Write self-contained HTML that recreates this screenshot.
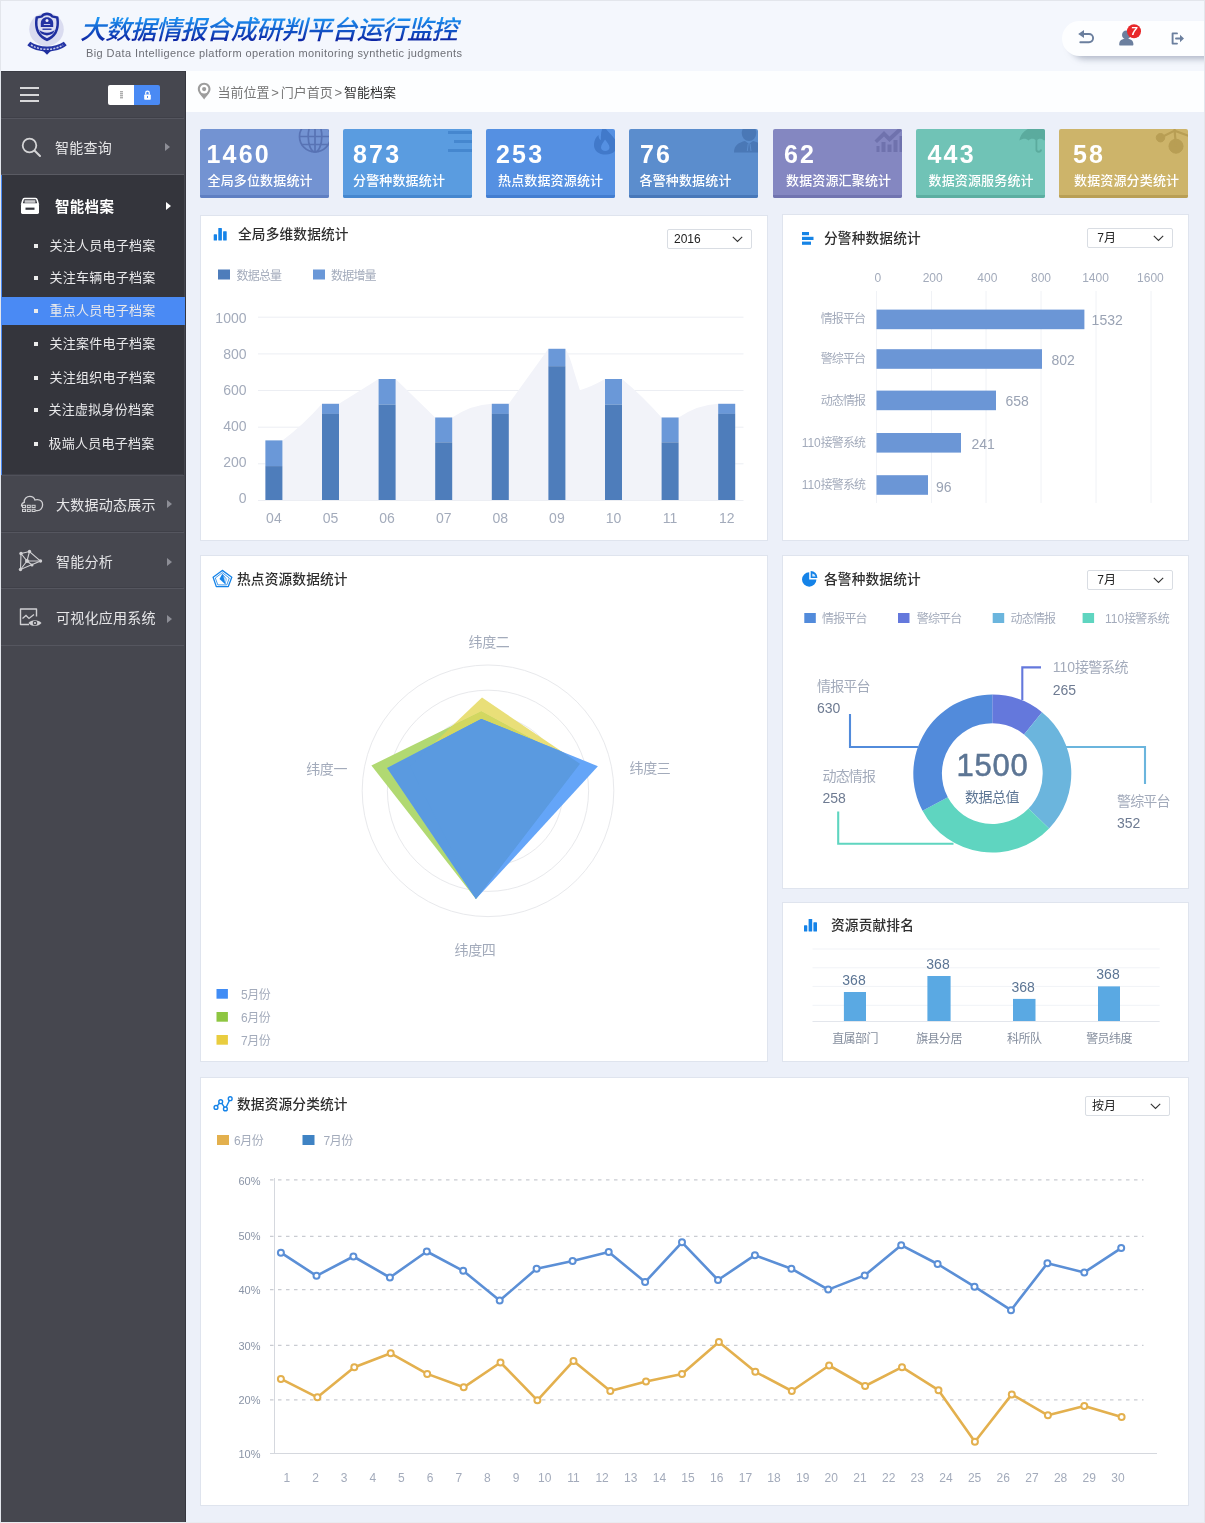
<!DOCTYPE html><html lang="zh-CN"><head><meta charset="utf-8"><title>大数据情报合成研判平台运行监控</title><style>
*{box-sizing:border-box;margin:0;padding:0}
html,body{width:1205px;height:1523px;overflow:hidden}
body{position:relative;background:#ecf0f9;font-family:"Liberation Sans","Noto Sans CJK SC",sans-serif;color:#333}
.abs{position:absolute}
#frame{position:absolute;left:0;top:0;width:1205px;height:1523px;border:1px solid #e3e6ec;border-bottom:1.500px solid #e9ebf0;pointer-events:none;z-index:50}
#hdr{position:absolute;left:0;top:0;width:1205px;height:71px;background:#f4f7fd}
#title{position:absolute;left:80px;top:12px;font-size:26px;line-height:36px;font-style:italic;font-weight:500;white-space:nowrap;letter-spacing:-.87px;background:linear-gradient(180deg,#1c92f2 18%,#0b1fa0 82%);-webkit-background-clip:text;background-clip:text;color:transparent;-webkit-text-fill-color:transparent;padding-right:6px}
#sub{position:absolute;left:86px;top:45.5px;font-size:11px;line-height:14px;color:#6d6f76;white-space:nowrap;letter-spacing:.41px}
#pill{position:absolute;left:1062px;top:21px;width:150px;height:35px;border-radius:17.5px 4px 4px 17.5px;background:#fdfeff;box-shadow:6px 5px 6px -2px rgba(120,132,155,.55)}
#side{position:absolute;left:1px;top:71px;width:184.500px;height:1452px;background:#46474f;border-right:1.400px solid #35363e}
#crumb{position:absolute;left:185px;top:71px;width:1020px;height:41px;background:#fdfeff}
#crumb .t{position:absolute;left:32.500px;top:12.500px;font-size:13px;line-height:18px;color:#777;white-space:nowrap}
#crumb .t b{font-weight:400;color:#333}
#crumb .t i{font-style:normal;padding:0 1.8px}
.row{position:absolute;left:0;width:183px;border-top:1px solid #55565f;box-shadow:0 -2px 0 -1px #3f4048}
.row .tx{position:absolute;left:55px;font-size:14px;line-height:20px;color:#e6e6e8;white-space:nowrap;letter-spacing:.25px}
.arr{position:absolute;width:0;height:0;border-left:5px solid #8d8e96;border-top:4px solid transparent;border-bottom:4px solid transparent}
.sub{position:absolute;left:0;width:184px;height:28px}
.sub i{position:absolute;left:33px;top:12px;width:4px;height:4px;background:#ececec}
.sub span{position:absolute;left:49px;top:4px;font-size:13px;line-height:20px;color:#e9e9eb;white-space:nowrap;letter-spacing:.25px}
.card{position:absolute;top:129px;width:129px;height:69px;border-radius:2px;overflow:hidden;color:#fff}
.card .n{position:absolute;left:7px;top:10px;font-size:25px;line-height:30px;font-weight:700;letter-spacing:2.2px}
.card .l{position:absolute;left:7px;top:43px;font-size:13px;line-height:18px;white-space:nowrap;letter-spacing:.15px;font-weight:500}
.card .b{position:absolute;left:0;bottom:0;width:100%;height:3px}
.panel{position:absolute;background:#fff;border:1px solid #dfe4ee}
.pt{position:absolute;font-size:13.7px;line-height:20px;color:#2f2f2f;white-space:nowrap;font-weight:500;letter-spacing:.15px}
.sel{position:absolute;height:20px;border:1px solid #d9dde3;border-radius:2px;background:#fff;font-size:12px;line-height:18px;color:#222;padding-left:6px}
.sel svg{position:absolute;left:auto;right:8px;top:6px}
svg{position:absolute;left:0;top:0;overflow:visible}
svg text{font-family:"Liberation Sans","Noto Sans CJK SC",sans-serif}
</style></head><body>
<div id="hdr">
<svg width="60" height="60" style="left:17px;top:4px" viewBox="0 0 60 60">
<ellipse cx="29.500" cy="25.300" rx="17.300" ry="16.600" fill="#dadcf0"/>
<path d="M30 8.600 C32.500 8.600 34.500 9.600 36 11.400 L41.300 12.600 C42.500 18 42.300 25 39.500 29.500 C37.500 33 33.500 35.800 30 37.200 C26.500 35.800 22.500 33 20.500 29.500 C17.700 25 17.500 18 18.700 12.600 L24 11.400 C25.500 9.600 27.500 8.600 30 8.600Z" fill="#1f2f9f"/>
<path d="M30 11.200 C32 11.200 33.300 12 34.600 13.600 L39.100 14.600 C39.900 18.500 39.700 24.300 37.400 28.100 C35.800 30.800 33 33 30 34.300 C27 33 24.200 30.800 22.600 28.100 C20.300 24.300 20.100 18.500 20.900 14.600 L25.400 13.600 C26.700 12 28 11.200 30 11.200Z" fill="#dcdef2"/>
<path d="M23.800 23 V19.200 C23.800 15.600 26.400 13.200 30 13.200 C33.600 13.200 36.200 15.600 36.200 19.200 V23Z" fill="#2333a3"/>
<circle cx="30" cy="16.600" r="1.500" fill="#eef0fb"/>
<path d="M26.800 20 H33.200 V21 H26.800Z" fill="#c9ccec"/>
<path d="M22.300 25.600 C25 29.800 35 29.800 37.700 25.600 L36.600 28.600 C34 32.300 26 32.300 23.400 28.600Z" fill="#1f2f9f"/>
<path d="M25.500 24.500 H34.500 V26 H25.500Z" fill="#3a49ad"/>
<path d="M10.300 41.300 L13.200 37.800 C22 44.200 38 44.200 46.800 37.800 L49.700 41.300 C40 49.600 20 49.600 10.300 41.300Z" fill="#2535a5"/>
<path d="M25.500 46.300 L30 44 L34.500 46.300 L30 50.800Z" fill="#1f2f9f"/>
<path d="M14 41 C23 46.800 37 46.800 46 41" fill="none" stroke="#c4c8ea" stroke-width="1.500" stroke-dasharray="2 1.300"/>
</svg>
<div id="title">大数据情报合成研判平台运行监控</div>
<div id="sub">Big Data Intelligence platform operation monitoring synthetic judgments</div>
<div id="pill"></div>
<svg width="150" height="40" style="left:1062px;top:21px" viewBox="0 0 150 40">
<g fill="none" stroke="#6b7f9e" stroke-width="1.900" stroke-linecap="round" stroke-linejoin="round">
<path d="M19.500 13 H27 A4.100 4.100 0 0 1 27 21.200 H18.300"/>
</g>
<path d="M16.200 13 L22 8.900 V17.100Z" fill="#6b7f9e"/>
<g fill="#6b7f9e"><circle cx="64.300" cy="13.900" r="4.300"/><path d="M57.200 23.400 C57.200 19.300 60 17.800 64.300 17.800 C68.600 17.800 71.400 19.300 71.400 23.400 C71.400 24.200 71 24.500 70.500 24.500 H58.100 C57.600 24.500 57.200 24.200 57.200 23.400Z"/></g>
<circle cx="72" cy="10.300" r="7" fill="#e8282a"/>
<text x="72" y="14.300" font-size="11" font-weight="700" font-style="italic" fill="#fff" text-anchor="middle">7</text>
<g fill="none" stroke="#6b7f9e" stroke-width="1.900" stroke-linecap="round" stroke-linejoin="round">
<path d="M115 12.400 H110.600 V22.600 H115"/><path d="M114 17.500 H119.500"/>
</g>
<path d="M118 13.800 L122 17.500 L118 21.200Z" fill="#6b7f9e"/>
</svg>
</div>
<div id="crumb">
<svg width="15" height="19" style="left:12px;top:11px" viewBox="0 0 15 19"><path d="M7.150 .8 C3.600 .8 .8 3.600 .8 7.100 C.8 11 5 14.500 7.150 17.600 C9.300 14.500 13.500 11 13.500 7.100 C13.500 3.600 10.700 .8 7.150 .8Z" fill="#9d9d9d"/><circle cx="7.150" cy="7.100" r="4.300" fill="#fff"/><circle cx="7.150" cy="7.100" r="2.100" fill="#9d9d9d"/></svg>
<div class="t">当前位置<i>&gt;</i>门户首页<i>&gt;</i><b>智能档案</b></div>
</div>
<div id="side">
<div class="abs" style="left:0;top:0;width:184px;height:1px;background:#3b3c44"></div>
<div class="abs" style="left:19px;top:16.300px;width:19px;height:2px;background:#d8d8da"></div>
<div class="abs" style="left:19px;top:22.800px;width:19px;height:2px;background:#d8d8da"></div>
<div class="abs" style="left:19px;top:29.300px;width:19px;height:2px;background:#d8d8da"></div>
<div class="abs" style="left:107px;top:14px;width:26px;height:20px;background:#fff;border-radius:2px 0 0 2px"></div>
<div class="abs" style="left:133px;top:14px;width:26px;height:20px;background:#4a8af4;border-radius:0 2px 2px 0"></div>
<svg width="60" height="24" style="left:107px;top:14px" viewBox="0 0 60 24">
<g fill="#8a8a8a"><rect x="12" y="6.300" width="3" height="1"/><rect x="12" y="8.300" width="3" height="1"/><rect x="12" y="10.300" width="3" height="1"/><rect x="12" y="12.300" width="3" height="1"/></g>
<rect x="36.200" y="9.400" width="6.600" height="5.400" rx=".8" fill="#fff"/><path d="M37.700 9.400 V8 A1.800 1.800 0 0 1 41.300 8 V9.400" fill="none" stroke="#fff" stroke-width="1.200"/><rect x="39" y="11" width="1" height="2" fill="#4a8af4"/>
</svg>
<div class="row" style="top:47px;height:57px"><div class="tx" style="top:19px;left:54px">智能查询</div><div class="arr" style="left:164px;top:24px"></div>
<svg width="24" height="24" style="left:18px;top:16px" viewBox="0 0 24 24"><circle cx="10.500" cy="10.500" r="6.800" fill="none" stroke="#d4d4d6" stroke-width="1.800"/><path d="M15.700 15.700 L21 21" stroke="#d4d4d6" stroke-width="2" stroke-linecap="round"/></svg>
</div>
<div class="abs" style="left:0;top:103px;width:183.200px;height:301px;background:#34353c;border-top:1px solid #5a5b63"></div>
<div class="abs" style="left:0;top:104px;width:1.300px;height:300px;background:#4a8af4"></div>
<div class="abs" style="left:54px;top:126px;font-size:14.500px;line-height:20px;font-weight:700;color:#fff;white-space:nowrap;letter-spacing:.3px">智能档案</div>
<div class="arr" style="left:165px;top:131px;border-left-color:#fff"></div>
<svg width="22" height="20" style="left:19px;top:126px" viewBox="0 0 22 20"><path d="M4.500 1.500 H15.500 C16.300 1.500 16.800 1.900 17 2.700 L18.200 7 H1.800 L3 2.700 C3.200 1.900 3.700 1.500 4.500 1.500Z" fill="none" stroke="#fff" stroke-width="1.600"/><rect x="4.600" y="3.200" width="10.800" height="2.600" fill="#c9c9cc"/><rect x="1" y="7" width="18" height="10" rx="1.400" fill="#fff"/><rect x="5.500" y="10.600" width="9" height="2.200" fill="#34353c"/></svg>
<div class="sub" style="top:161.2px"><i></i><span style="left:48.5px">关注人员电子档案</span></div>
<div class="sub" style="top:193.2px"><i></i><span style="left:48.5px">关注车辆电子档案</span></div>
<div class="sub" style="top:226.7px;background:#4a8af4;height:27.500px;margin-top:-.3px"><i></i><span style="left:48.5px">重点人员电子档案</span></div>
<div class="sub" style="top:258.7px"><i></i><span style="left:48.5px">关注案件电子档案</span></div>
<div class="sub" style="top:292.7px"><i></i><span style="left:48.5px">关注组织电子档案</span></div>
<div class="sub" style="top:325.2px"><i></i><span style="left:47.5px">关注虚拟身份档案</span></div>
<div class="sub" style="top:358.7px"><i></i><span style="left:47.5px">极端人员电子档案</span></div>
<div class="row" style="top:404px;height:57px;border-top-color:#50515a"><div class="tx" style="top:18.500px;left:55px">大数据动态展示</div><div class="arr" style="left:166px;top:24px"></div>
<svg width="28" height="24" style="left:18px;top:16px" viewBox="0 0 28 24"><path d="M5.200 10.400 C5 6.800 7.800 4.400 10.800 4.400 C13.200 4.400 15.200 5.800 16 8 C16.600 7.700 17.400 7.600 18.200 7.600 C21.400 7.600 23.600 9.800 23.600 12.800 C23.600 15.900 21.400 18.600 18.500 18.600 H17" fill="none" stroke="#d0d0d3" stroke-width="1.300" stroke-linecap="round"/><path d="M5.200 10.400 C3.500 10.900 2.500 12.300 2.500 14" fill="none" stroke="#d0d0d3" stroke-width="1.300" stroke-linecap="round"/><g fill="none" stroke="#d0d0d3" stroke-width="1"><rect x="3.500" y="13.300" width="3" height="2.200"/><rect x="8.300" y="13.300" width="3" height="2.200"/><rect x="13.100" y="13.300" width="3" height="2.200"/><rect x="3.500" y="17.300" width="3" height="2.200"/><rect x="8.300" y="17.300" width="3" height="2.200"/><rect x="13.100" y="17.300" width="3" height="2.200"/></g></svg>
</div>
<div class="row" style="top:461px;height:56px"><div class="tx" style="top:19px">智能分析</div><div class="arr" style="left:166px;top:25px"></div>
<svg width="28" height="24" style="left:16px;top:16px" viewBox="0 0 28 24"><g fill="none" stroke="#d0d0d3" stroke-width="1.100"><path d="M4 4.500 L12.500 2.500 L23.500 12 L3.500 20.500 Z"/><path d="M4 4.500 L10 12 L23.500 12 M12.500 2.500 L10 12 L3.500 20.500 M10 12 L15 16"/></g><g fill="#d0d0d3"><circle cx="4" cy="4.500" r="1.700"/><circle cx="12.500" cy="2.500" r="1.700"/><circle cx="23.500" cy="12" r="1.700"/><circle cx="3.500" cy="20.500" r="1.700"/><circle cx="10" cy="12" r="2"/><circle cx="15" cy="16" r="1.500"/></g></svg>
</div>
<div class="row" style="top:517px;height:57px"><div class="tx" style="top:19px;left:55px">可视化应用系统</div><div class="arr" style="left:166px;top:26px"></div>
<svg width="28" height="24" style="left:17px;top:17px" viewBox="0 0 28 24"><path d="M11 18.500 H2.500 V3 H18.500 V10.500" fill="none" stroke="#d0d0d3" stroke-width="1.400" stroke-linejoin="round"/><path d="M4.500 12.500 L8 9.500 L11 12.500 L16 8.500" fill="none" stroke="#d0d0d3" stroke-width="1.300"/><path d="M10.500 17 C13 13.200 20.500 13.200 23.500 17 C20.500 20.800 13 20.800 10.500 17Z" fill="#d0d0d3"/><circle cx="17" cy="17" r="2.300" fill="#46474f"/><circle cx="17" cy="17" r="1.100" fill="#d0d0d3"/></svg>
</div>
<div class="row" style="top:574px;height:1px"></div>
</div>
<div class="card" style="left:200px;background:#7393d2"><svg width="129" height="69" viewBox="0 0 129 69"><g fill="none" stroke="#5873b4" stroke-width="1.700"><circle cx="115" cy="7.500" r="15.500"/><ellipse cx="115" cy="7.500" rx="6.800" ry="15.500"/><path d="M99.500 7.500 H130.500 M101.500 -.5 H128.500 M101.500 15.500 H128.500 M115 -8 V23"/></g></svg><div class="n" style="left:6.5px">1460</div><div class="l" style="left:7.5px">全局多位数据统计</div><div class="b" style="background:#5f7fc2"></div></div>
<div class="card" style="left:343px;background:#5a9ce0"><svg width="129" height="69" viewBox="0 0 129 69"><g fill="#4587cf"><rect x="105" y="2" width="26" height="3"/><rect x="111" y="11" width="20" height="3"/><rect x="105" y="20" width="26" height="3"/></g></svg><div class="n" style="left:10.0px">873</div><div class="l" style="left:10.0px">分警种数据统计</div><div class="b" style="background:#4587cf"></div></div>
<div class="card" style="left:486px;background:#5590e2"><svg width="129" height="69" viewBox="0 0 129 69"><path d="M118 -4 C120 3 129 7 131 15 C132 21 127 25.500 120 25.500 C112 25.500 107.500 21 108 15 C108.300 11 110 8 112.500 6 C112.500 9 113.500 10.500 115 11 C114.500 5 115.500 0 118 -4Z" fill="#4179ca"/><path d="M119 10.500 C121 13.500 123.500 15.500 123.500 18.500 C123.500 20.700 121.500 22 119.300 22 C117 22 115 20.700 115 18.500 C115 15.500 117.500 13.500 119 10.500Z" fill="#5590e2"/></svg><div class="n" style="left:10.0px">253</div><div class="l" style="left:12.0px">热点数据资源统计</div><div class="b" style="background:#437dd0"></div></div>
<div class="card" style="left:629px;background:#5b8dcd"><svg width="129" height="69" viewBox="0 0 129 69"><g fill="#4a78b6"><ellipse cx="120" cy="4" rx="7.300" ry="8"/><path d="M105 23.500 C105 16 110 13.500 116 12 L120 15 L124 12 C130 13.500 135 16 135 23.500Z"/></g><path d="M119.200 15 L118.300 22 M121 15 L122 22" stroke="#5b8dcd" stroke-width="1" fill="none"/></svg><div class="n" style="left:11.0px">76</div><div class="l" style="left:10.5px">各警种数据统计</div><div class="b" style="background:#4878b9"></div></div>
<div class="card" style="left:773px;background:#8487c1"><svg width="129" height="69" viewBox="0 0 129 69"><g fill="#6f72ad"><rect x="103.500" y="17" width="3" height="6"/><rect x="108.500" y="13" width="4" height="10"/><rect x="114.500" y="15.500" width="4" height="7.500"/><rect x="120.500" y="11" width="4" height="12"/><rect x="126.500" y="7" width="4" height="16"/><path d="M101.500 11.500 L111 2 L116.500 7.500 L128 -3 L131 -.5 L116.500 13 L111 7.500 L104 14Z"/></g></svg><div class="n" style="left:11.0px">62</div><div class="l" style="left:13.0px">数据资源汇聚统计</div><div class="b" style="background:#7174b0"></div></div>
<div class="card" style="left:916px;background:#70c3b6"><svg width="129" height="69" viewBox="0 0 129 69"><g fill="#5bab9e"><path d="M103.400 11.500 C105 3 112 -2 120.400 -2 C128 -2 135 3 137 11.500 C133.500 9 130.500 9 128 11.500 C126 9 122.500 9 120.400 11.500 C118 9 114.500 9 112.500 11.500 C110 9 107 9 103.400 11.500Z"/><path d="M120.400 10 V20.500 C120.400 23.500 125 23.500 125 20.500" fill="none" stroke="#5bab9e" stroke-width="1.800"/></g></svg><div class="n" style="left:11.5px">443</div><div class="l" style="left:12.5px">数据资源服务统计</div><div class="b" style="background:#5caea1"></div></div>
<div class="card" style="left:1059px;background:#cdb46a"><svg width="129" height="69" viewBox="0 0 129 69"><g fill="#b89e54" stroke="#b89e54"><circle cx="101.500" cy="8.700" r="4.200"/><circle cx="117" cy="17.200" r="7"/><path d="M101.500 8.700 L115.600 1.600 L130 7 M115.600 1.600 L117 17.200 M115.600 -3 V1.600" stroke-width="2.200" fill="none"/></g></svg><div class="n" style="left:14.0px">58</div><div class="l" style="left:15.0px">数据资源分类统计</div><div class="b" style="background:#b99f55"></div></div>
<div class="panel" style="left:200.300px;top:214.600px;width:567.700px;height:326.400px"></div>
<svg width="1205" height="1523" viewBox="0 0 1205 1523" style="z-index:2">
<g fill="#1583e8"><rect x="213.700" y="234.300" width="3.300" height="6.200" rx=".6"/><rect x="218.300" y="228" width="3.600" height="12.500" rx=".6"/><rect x="223.100" y="231.200" width="3.600" height="9.300" rx=".6"/></g>
<rect x="218" y="269.500" width="12" height="10" fill="#4e7dbb"/><text x="236.500" y="279.500" font-size="12" fill="#a3abbb" letter-spacing="-.8">数据总量</text>
<rect x="313" y="269.500" width="12" height="10" fill="#6a98d8"/><text x="331" y="279.500" font-size="12" fill="#a3abbb" letter-spacing="-.8">数据增量</text>
<line x1="258" x2="743.500" y1="500.5" y2="500.5" stroke="#eceef3" stroke-width="1"/>
<text x="246.500" y="502.7" font-size="14" fill="#a3abbb" text-anchor="end">0</text>
<line x1="258" x2="743.500" y1="463.8" y2="463.8" stroke="#eceef3" stroke-width="1"/>
<text x="246.500" y="466.8" font-size="14" fill="#a3abbb" text-anchor="end">200</text>
<line x1="258" x2="743.500" y1="427.2" y2="427.2" stroke="#eceef3" stroke-width="1"/>
<text x="246.500" y="430.8" font-size="14" fill="#a3abbb" text-anchor="end">400</text>
<line x1="258" x2="743.500" y1="390.5" y2="390.5" stroke="#eceef3" stroke-width="1"/>
<text x="246.500" y="394.8" font-size="14" fill="#a3abbb" text-anchor="end">600</text>
<line x1="258" x2="743.500" y1="353.9" y2="353.9" stroke="#eceef3" stroke-width="1"/>
<text x="246.500" y="358.9" font-size="14" fill="#a3abbb" text-anchor="end">800</text>
<line x1="258" x2="743.500" y1="317.2" y2="317.2" stroke="#eceef3" stroke-width="1"/>
<text x="246.500" y="322.9" font-size="14" fill="#a3abbb" text-anchor="end">1000</text>
<path d="M265.4 500.0 L265.4 440.4 L265.4 440.4 L282.4 440.4 Q302.2 426.1 322.0 403.8 L322.0 403.8 L339.0 403.8 Q358.8 391.4 378.6 379.0 L378.6 379.0 L395.6 379.0 Q415.4 398.3 435.2 417.5 L435.2 417.5 L452.2 417.5 Q472.0 404.6 491.8 403.8 L491.8 403.8 L508.8 403.8 Q528.6 376.3 548.4 348.8 L548.4 348.8 L565.4 348.8 Q569.4 354.8 574.4 372.8 L579.9 390.2 Q592.0 386.5 605.0 379.0 L605.0 379.0 L622.0 379.0 Q641.8 395.3 661.6 417.5 L661.6 417.5 L678.6 417.5 Q698.4 404.6 718.2 403.8 L718.2 403.8 L735.2 403.8 L735.2 500.0 Z" fill="#f2f3f9"/>
<rect x="265.4" y="440.4" width="17" height="25.7" fill="#6a98d8"/>
<rect x="265.4" y="466.1" width="17" height="33.9" fill="#4e7dbb"/>
<text x="273.9" y="523" font-size="14" fill="#a3abbb" text-anchor="middle">04</text>
<rect x="322.0" y="403.8" width="17" height="10.1" fill="#6a98d8"/>
<rect x="322.0" y="413.8" width="17" height="86.2" fill="#4e7dbb"/>
<text x="330.5" y="523" font-size="14" fill="#a3abbb" text-anchor="middle">05</text>
<rect x="378.6" y="379.0" width="17" height="25.7" fill="#6a98d8"/>
<rect x="378.6" y="404.7" width="17" height="95.3" fill="#4e7dbb"/>
<text x="387.1" y="523" font-size="14" fill="#a3abbb" text-anchor="middle">06</text>
<rect x="435.2" y="417.5" width="17" height="24.7" fill="#6a98d8"/>
<rect x="435.2" y="442.3" width="17" height="57.7" fill="#4e7dbb"/>
<text x="443.7" y="523" font-size="14" fill="#a3abbb" text-anchor="middle">07</text>
<rect x="491.8" y="403.8" width="17" height="10.1" fill="#6a98d8"/>
<rect x="491.8" y="413.8" width="17" height="86.2" fill="#4e7dbb"/>
<text x="500.3" y="523" font-size="14" fill="#a3abbb" text-anchor="middle">08</text>
<rect x="548.4" y="348.8" width="17" height="17.4" fill="#6a98d8"/>
<rect x="548.4" y="366.2" width="17" height="133.8" fill="#4e7dbb"/>
<text x="556.9" y="523" font-size="14" fill="#a3abbb" text-anchor="middle">09</text>
<rect x="605.0" y="379.0" width="17" height="25.7" fill="#6a98d8"/>
<rect x="605.0" y="404.7" width="17" height="95.3" fill="#4e7dbb"/>
<text x="613.5" y="523" font-size="14" fill="#a3abbb" text-anchor="middle">10</text>
<rect x="661.6" y="417.5" width="17" height="24.7" fill="#6a98d8"/>
<rect x="661.6" y="442.3" width="17" height="57.7" fill="#4e7dbb"/>
<text x="670.1" y="523" font-size="14" fill="#a3abbb" text-anchor="middle">11</text>
<rect x="718.2" y="403.8" width="17" height="10.1" fill="#6a98d8"/>
<rect x="718.2" y="413.8" width="17" height="86.2" fill="#4e7dbb"/>
<text x="726.7" y="523" font-size="14" fill="#a3abbb" text-anchor="middle">12</text>
<g fill="#1684e6"><rect x="802" y="232" width="7" height="3.200"/><rect x="802" y="236.800" width="11.500" height="3.200"/><rect x="802" y="241.600" width="9" height="3.200"/></g>
<line x1="876.5" x2="876.5" y1="291" y2="503" stroke="#f0f2f6" stroke-width="1"/>
<text x="877.8" y="281.500" font-size="12" fill="#a3abbb" text-anchor="middle">0</text>
<line x1="931.5" x2="931.5" y1="291" y2="503" stroke="#f0f2f6" stroke-width="1"/>
<text x="932.7" y="281.500" font-size="12" fill="#a3abbb" text-anchor="middle">200</text>
<line x1="986.0" x2="986.0" y1="291" y2="503" stroke="#f0f2f6" stroke-width="1"/>
<text x="987.3" y="281.500" font-size="12" fill="#a3abbb" text-anchor="middle">400</text>
<line x1="1041.0" x2="1041.0" y1="291" y2="503" stroke="#f0f2f6" stroke-width="1"/>
<text x="1041.0" y="281.500" font-size="12" fill="#a3abbb" text-anchor="middle">800</text>
<line x1="1096.0" x2="1096.0" y1="291" y2="503" stroke="#f0f2f6" stroke-width="1"/>
<text x="1095.5" y="281.500" font-size="12" fill="#a3abbb" text-anchor="middle">1400</text>
<line x1="1151.0" x2="1151.0" y1="291" y2="503" stroke="#f0f2f6" stroke-width="1"/>
<text x="1150.4" y="281.500" font-size="12" fill="#a3abbb" text-anchor="middle">1600</text>
<rect x="876.500" y="309.6" width="207.9" height="19.600" fill="#6b96d6"/>
<text x="1091.6" y="325.1" font-size="14" fill="#9aa3b4">1532</text>
<text x="865" y="322.6" font-size="12" fill="#a3abbb" text-anchor="end"><tspan letter-spacing="-.95">情报平台</tspan></text>
<rect x="876.500" y="349.2" width="165.5" height="19.600" fill="#6b96d6"/>
<text x="1051.5" y="364.7" font-size="14" fill="#9aa3b4">802</text>
<text x="865" y="363.1" font-size="12" fill="#a3abbb" text-anchor="end"><tspan letter-spacing="-.95">警综平台</tspan></text>
<rect x="876.500" y="390.6" width="119.5" height="19.600" fill="#6b96d6"/>
<text x="1005.4" y="406.1" font-size="14" fill="#9aa3b4">658</text>
<text x="865" y="404.7" font-size="12" fill="#a3abbb" text-anchor="end"><tspan letter-spacing="-.95">动态情报</tspan></text>
<rect x="876.500" y="433.0" width="84.5" height="19.600" fill="#6b96d6"/>
<text x="971.5" y="448.5" font-size="14" fill="#9aa3b4">241</text>
<text x="865" y="447.1" font-size="12" fill="#a3abbb" text-anchor="end"><tspan letter-spacing="0">110</tspan><tspan letter-spacing="-.95">接警系统</tspan></text>
<rect x="876.500" y="475.2" width="51.5" height="19.600" fill="#6b96d6"/>
<text x="936.0" y="492.2" font-size="14" fill="#9aa3b4">96</text>
<text x="865" y="489.1" font-size="12" fill="#a3abbb" text-anchor="end"><tspan letter-spacing="0">110</tspan><tspan letter-spacing="-.95">接警系统</tspan></text>
<g fill="none" stroke="#1583e8" stroke-linejoin="round"><path d="M222.300 570.400 L231.800 577.300 L228.300 586.600 H216.300 L213.100 577.300Z" stroke-width="1.300"/><path d="M222.300 572.700 L229.300 578 L226.800 584.900 H217.800 L215.300 578Z" stroke-width=".8"/></g><path d="M222.300 573.800 L226.600 578.800 L225.500 584.600 L219.500 579Z" fill="#1583e8"/><path d="M223.300 576 L226.300 579 L225.300 583.500Z" fill="#fff" opacity=".75"/>
<circle cx="488.0" cy="790.8" r="125.8" fill="none" stroke="#e8e9ec" stroke-width="1"/>
<circle cx="488.0" cy="790.8" r="100.6" fill="none" stroke="#e8e9ec" stroke-width="1"/>
<circle cx="488.0" cy="790.8" r="75.0" fill="none" stroke="#e8e9ec" stroke-width="1"/>
<defs><clipPath id="cg"><path d="M481.300 711.600 L578.900 764.300 L475.900 899.100 L371.400 765.500Z"/></clipPath><clipPath id="cy"><path d="M482 697.600 L580 763.800 L475.900 899.100 L410 766Z"/></clipPath><clipPath id="cb"><path d="M481.300 719 L597.900 766.200 L475.900 899.100 L387.200 768Z"/></clipPath></defs>
<path d="M482 697.600 L580 763.800 L475.900 899.100 L410 766Z" fill="#e9df78"/>
<path d="M481.300 711.600 L578.900 764.300 L475.900 899.100 L371.400 765.500Z" fill="#b1d972"/>
<path d="M481.300 711.600 L578.900 764.300 L475.900 899.100 L371.400 765.500Z" fill="#d3d760" clip-path="url(#cy)"/>
<path d="M481.300 719 L597.900 766.200 L475.900 899.100 L387.200 768Z" fill="#64a5f8"/>
<g clip-path="url(#cb)"><path d="M481.300 711.600 L578.900 764.300 L475.900 899.100 L371.400 765.500Z" fill="#5a9ae0"/><path d="M482 697.600 L580 763.800 L475.900 899.100 L410 766Z" fill="#5a9ae0"/></g>
<text x="489.0" y="647.0" font-size="14" fill="#a3abbb" text-anchor="middle" letter-spacing="-.4">纬度二</text>
<text x="326.6" y="774.0" font-size="14" fill="#a3abbb" text-anchor="middle" letter-spacing="-.4">纬度一</text>
<text x="650.0" y="773.0" font-size="14" fill="#a3abbb" text-anchor="middle" letter-spacing="-.4">纬度三</text>
<text x="475.0" y="954.5" font-size="14" fill="#a3abbb" text-anchor="middle" letter-spacing="-.4">纬度四</text>
<rect x="216.500" y="989" width="11.400" height="9.700" fill="#408cf5"/><text x="241" y="999" font-size="12" fill="#a3abbb" letter-spacing="-.4">5月份</text>
<rect x="216.500" y="1012" width="11.400" height="9.700" fill="#8ec641"/><text x="241" y="1022" font-size="12" fill="#a3abbb" letter-spacing="-.4">6月份</text>
<rect x="216.500" y="1035" width="11.400" height="9.700" fill="#e9cd3f"/><text x="241" y="1045" font-size="12" fill="#a3abbb" letter-spacing="-.4">7月份</text>
<path d="M809.200 572.300 A7.200 7.200 0 1 0 816.400 579.500 H809.200Z" fill="#1583e8"/><path d="M810.700 571 A6.700 6.700 0 0 1 817.400 577.900 H810.700Z" fill="#1583e8"/><path d="M812.300 573.600 A4.400 4.400 0 0 1 815.600 576.500 H812.300Z" fill="#fff" opacity=".85"/>
<rect x="804.3" y="613" width="11.500" height="10" fill="#528bdb"/><text x="822.0" y="622.500" font-size="12" fill="#a3abbb"><tspan letter-spacing="-.8">情报平台</tspan></text>
<rect x="898.0" y="613" width="11.500" height="10" fill="#6478dc"/><text x="916.7" y="622.500" font-size="12" fill="#a3abbb"><tspan letter-spacing="-.8">警综平台</tspan></text>
<rect x="992.7" y="613" width="11.500" height="10" fill="#6bb5dd"/><text x="1010.5" y="622.500" font-size="12" fill="#a3abbb"><tspan letter-spacing="-.8">动态情报</tspan></text>
<rect x="1082.6" y="613" width="11.500" height="10" fill="#5fd5c0"/><text x="1105.0" y="622.500" font-size="12" fill="#a3abbb"><tspan letter-spacing="0">110</tspan><tspan letter-spacing="-.8">接警系统</tspan></text>
<path d="M992.30 694.60 A79.0 79.0 0 0 1 1042.02 712.21 L1024.02 734.43 A50.4 50.4 0 0 0 992.30 723.20 Z" fill="#6478dc"/>
<path d="M1042.02 712.21 A79.0 79.0 0 0 1 1049.13 828.48 L1028.55 808.61 A50.4 50.4 0 0 0 1024.02 734.43 Z" fill="#6bb5dd"/>
<path d="M1049.13 828.48 A79.0 79.0 0 0 1 922.55 810.69 L947.80 797.26 A50.4 50.4 0 0 0 1028.55 808.61 Z" fill="#5fd5c0"/>
<path d="M922.55 810.69 A79.0 79.0 0 0 1 992.30 694.60 L992.30 723.20 A50.4 50.4 0 0 0 947.80 797.26 Z" fill="#528bdb"/>
<text x="992.500" y="776" font-size="31" fill="#5c7594" stroke="#5c7594" stroke-width=".55" text-anchor="middle" letter-spacing=".7">1500</text>
<text x="992" y="802" font-size="14" fill="#5c7594" text-anchor="middle" letter-spacing="-.5">数据总值</text>
<g fill="none" stroke-width="2.100"><path d="M850 714 V747 H918" stroke="#528bdb"/><path d="M1041 667.400 H1022.300 V700" stroke="#6478dc"/><path d="M1066 747 H1145 V784" stroke="#6bb5dd"/><path d="M838.200 811.600 V843.700 H953.500" stroke="#5fd5c0"/></g>
<text x="817.0" y="690.5" font-size="14" fill="#a3abbb"><tspan letter-spacing="-.85">情报平台</tspan></text>
<text x="817.0" y="713.0" font-size="14" fill="#6e7b92">630</text>
<text x="1052.7" y="672.0" font-size="14" fill="#a3abbb"><tspan letter-spacing="0">110</tspan><tspan letter-spacing="-.85">接警系统</tspan></text>
<text x="1052.7" y="694.5" font-size="14" fill="#6e7b92">265</text>
<text x="1117.0" y="805.5" font-size="14" fill="#a3abbb"><tspan letter-spacing="-.85">警综平台</tspan></text>
<text x="1117.0" y="828.0" font-size="14" fill="#6e7b92">352</text>
<text x="822.5" y="780.5" font-size="14" fill="#a3abbb"><tspan letter-spacing="-.85">动态情报</tspan></text>
<text x="822.5" y="803.0" font-size="14" fill="#6e7b92">258</text>
<g fill="#1583e8"><rect x="804" y="925.300" width="3.300" height="6.200" rx=".6"/><rect x="808.600" y="919" width="3.600" height="12.500" rx=".6"/><rect x="813.400" y="922.200" width="3.600" height="9.300" rx=".6"/></g>
<line x1="812.500" x2="1159.700" y1="949.0" y2="949.0" stroke="#f1f3f7" stroke-width="1"/>
<line x1="812.500" x2="1159.700" y1="967.8" y2="967.8" stroke="#f1f3f7" stroke-width="1"/>
<line x1="812.500" x2="1159.700" y1="986.4" y2="986.4" stroke="#f1f3f7" stroke-width="1"/>
<line x1="812.500" x2="1159.700" y1="1005.3" y2="1005.3" stroke="#f1f3f7" stroke-width="1"/>
<line x1="812.500" x2="1159.700" y1="1021.500" y2="1021.500" stroke="#e3e6ec" stroke-width="1"/>
<rect x="843.9" y="992.0" width="22.1" height="29.0" fill="#5aa9e3"/>
<text x="854.0" y="985.0" font-size="14" fill="#5c7594" text-anchor="middle">368</text>
<text x="855.0" y="1042.500" font-size="12" fill="#848d9d" text-anchor="middle" letter-spacing="-.6">直属部门</text>
<rect x="927.4" y="976.0" width="23.2" height="45.0" fill="#5aa9e3"/>
<text x="938.0" y="969.0" font-size="14" fill="#5c7594" text-anchor="middle">368</text>
<text x="939.0" y="1042.500" font-size="12" fill="#848d9d" text-anchor="middle" letter-spacing="-.6">旗县分居</text>
<rect x="1013.0" y="998.9" width="22.5" height="22.1" fill="#5aa9e3"/>
<text x="1023.2" y="991.9" font-size="14" fill="#5c7594" text-anchor="middle">368</text>
<text x="1024.2" y="1042.500" font-size="12" fill="#848d9d" text-anchor="middle" letter-spacing="-.6">科所队</text>
<rect x="1098.0" y="986.4" width="22.0" height="34.6" fill="#5aa9e3"/>
<text x="1108.0" y="979.4" font-size="14" fill="#5c7594" text-anchor="middle">368</text>
<text x="1109.0" y="1042.500" font-size="12" fill="#848d9d" text-anchor="middle" letter-spacing="-.6">警员纬度</text>
<g fill="none" stroke="#1684e6" stroke-width="1.400"><path d="M216 1107.400 L220.700 1101.700 L225.400 1108.900 L230.200 1098.700"/></g><g fill="#fff" stroke="#1583e8" stroke-width="1.400"><circle cx="216" cy="1107.400" r="1.900"/><circle cx="220.700" cy="1101.700" r="1.900"/><circle cx="225.400" cy="1108.900" r="1.900"/><circle cx="230.200" cy="1098.700" r="1.900"/></g>
<rect x="217" y="1135" width="12" height="10" fill="#e3b04e"/><text x="234" y="1144.500" font-size="12" fill="#a3abbb" letter-spacing="-.4">6月份</text>
<rect x="302.500" y="1135" width="12" height="10" fill="#3f83c4"/><text x="323.500" y="1144.500" font-size="12" fill="#a3abbb" letter-spacing="-.4">7月份</text>
<line x1="270" x2="1143.500" y1="1179.8" y2="1179.8" stroke="#c9ccd2" stroke-width="1.150" stroke-dasharray="3.500 4.500"/>
<text x="260.500" y="1185.3" font-size="11" fill="#8a94a6" text-anchor="end">60%</text>
<line x1="270" x2="1143.500" y1="1236.4" y2="1236.4" stroke="#c9ccd2" stroke-width="1.150" stroke-dasharray="3.500 4.500"/>
<text x="260.500" y="1239.7" font-size="11" fill="#8a94a6" text-anchor="end">50%</text>
<line x1="270" x2="1143.500" y1="1289.6" y2="1289.6" stroke="#c9ccd2" stroke-width="1.150" stroke-dasharray="3.500 4.500"/>
<text x="260.500" y="1293.9" font-size="11" fill="#8a94a6" text-anchor="end">40%</text>
<line x1="270" x2="1143.500" y1="1345.4" y2="1345.4" stroke="#c9ccd2" stroke-width="1.150" stroke-dasharray="3.500 4.500"/>
<text x="260.500" y="1349.7" font-size="11" fill="#8a94a6" text-anchor="end">30%</text>
<line x1="270" x2="1143.500" y1="1399.8" y2="1399.8" stroke="#c9ccd2" stroke-width="1.150" stroke-dasharray="3.500 4.500"/>
<text x="260.500" y="1404.1" font-size="11" fill="#8a94a6" text-anchor="end">20%</text>
<text x="260.500" y="1457.7" font-size="11" fill="#8a94a6" text-anchor="end">10%</text>
<line x1="274.500" x2="274.500" y1="1178" y2="1453.500" stroke="#d5d8de" stroke-width="1"/>
<line x1="270" x2="1157" y1="1453.500" y2="1453.500" stroke="#d5d8de" stroke-width="1"/>
<text x="286.8" y="1481.500" font-size="12" fill="#a3abbb" text-anchor="middle">1</text>
<text x="315.5" y="1481.500" font-size="12" fill="#a3abbb" text-anchor="middle">2</text>
<text x="344.1" y="1481.500" font-size="12" fill="#a3abbb" text-anchor="middle">3</text>
<text x="372.8" y="1481.500" font-size="12" fill="#a3abbb" text-anchor="middle">4</text>
<text x="401.4" y="1481.500" font-size="12" fill="#a3abbb" text-anchor="middle">5</text>
<text x="430.1" y="1481.500" font-size="12" fill="#a3abbb" text-anchor="middle">6</text>
<text x="458.8" y="1481.500" font-size="12" fill="#a3abbb" text-anchor="middle">7</text>
<text x="487.4" y="1481.500" font-size="12" fill="#a3abbb" text-anchor="middle">8</text>
<text x="516.1" y="1481.500" font-size="12" fill="#a3abbb" text-anchor="middle">9</text>
<text x="544.7" y="1481.500" font-size="12" fill="#a3abbb" text-anchor="middle">10</text>
<text x="573.4" y="1481.500" font-size="12" fill="#a3abbb" text-anchor="middle">11</text>
<text x="602.1" y="1481.500" font-size="12" fill="#a3abbb" text-anchor="middle">12</text>
<text x="630.7" y="1481.500" font-size="12" fill="#a3abbb" text-anchor="middle">13</text>
<text x="659.4" y="1481.500" font-size="12" fill="#a3abbb" text-anchor="middle">14</text>
<text x="688.0" y="1481.500" font-size="12" fill="#a3abbb" text-anchor="middle">15</text>
<text x="716.7" y="1481.500" font-size="12" fill="#a3abbb" text-anchor="middle">16</text>
<text x="745.4" y="1481.500" font-size="12" fill="#a3abbb" text-anchor="middle">17</text>
<text x="774.0" y="1481.500" font-size="12" fill="#a3abbb" text-anchor="middle">18</text>
<text x="802.7" y="1481.500" font-size="12" fill="#a3abbb" text-anchor="middle">19</text>
<text x="831.3" y="1481.500" font-size="12" fill="#a3abbb" text-anchor="middle">20</text>
<text x="860.0" y="1481.500" font-size="12" fill="#a3abbb" text-anchor="middle">21</text>
<text x="888.7" y="1481.500" font-size="12" fill="#a3abbb" text-anchor="middle">22</text>
<text x="917.3" y="1481.500" font-size="12" fill="#a3abbb" text-anchor="middle">23</text>
<text x="946.0" y="1481.500" font-size="12" fill="#a3abbb" text-anchor="middle">24</text>
<text x="974.6" y="1481.500" font-size="12" fill="#a3abbb" text-anchor="middle">25</text>
<text x="1003.3" y="1481.500" font-size="12" fill="#a3abbb" text-anchor="middle">26</text>
<text x="1032.0" y="1481.500" font-size="12" fill="#a3abbb" text-anchor="middle">27</text>
<text x="1060.6" y="1481.500" font-size="12" fill="#a3abbb" text-anchor="middle">28</text>
<text x="1089.3" y="1481.500" font-size="12" fill="#a3abbb" text-anchor="middle">29</text>
<text x="1117.9" y="1481.500" font-size="12" fill="#a3abbb" text-anchor="middle">30</text>
<polyline points="280.9,1378.9 317.4,1397.3 354.3,1367.2 390.7,1353.3 427.2,1373.9 463.7,1387.3 500.5,1362.5 537.4,1400.3 573.5,1360.9 610.3,1391.0 646.0,1381.4 682.0,1373.9 718.9,1342.0 755.3,1371.8 791.8,1391.0 829.1,1365.5 865.1,1386.0 902.0,1367.2 938.5,1390.2 974.9,1441.8 1011.8,1394.4 1047.9,1415.3 1084.3,1406.1 1121.6,1417.0" fill="none" stroke="#e3b04e" stroke-width="2.600" stroke-linejoin="round"/>
<circle cx="280.9" cy="1378.9" r="3" fill="#fff" stroke="#e3b04e" stroke-width="2"/>
<circle cx="317.4" cy="1397.3" r="3" fill="#fff" stroke="#e3b04e" stroke-width="2"/>
<circle cx="354.3" cy="1367.2" r="3" fill="#fff" stroke="#e3b04e" stroke-width="2"/>
<circle cx="390.7" cy="1353.3" r="3" fill="#fff" stroke="#e3b04e" stroke-width="2"/>
<circle cx="427.2" cy="1373.9" r="3" fill="#fff" stroke="#e3b04e" stroke-width="2"/>
<circle cx="463.7" cy="1387.3" r="3" fill="#fff" stroke="#e3b04e" stroke-width="2"/>
<circle cx="500.5" cy="1362.5" r="3" fill="#fff" stroke="#e3b04e" stroke-width="2"/>
<circle cx="537.4" cy="1400.3" r="3" fill="#fff" stroke="#e3b04e" stroke-width="2"/>
<circle cx="573.5" cy="1360.9" r="3" fill="#fff" stroke="#e3b04e" stroke-width="2"/>
<circle cx="610.3" cy="1391.0" r="3" fill="#fff" stroke="#e3b04e" stroke-width="2"/>
<circle cx="646.0" cy="1381.4" r="3" fill="#fff" stroke="#e3b04e" stroke-width="2"/>
<circle cx="682.0" cy="1373.9" r="3" fill="#fff" stroke="#e3b04e" stroke-width="2"/>
<circle cx="718.9" cy="1342.0" r="3" fill="#fff" stroke="#e3b04e" stroke-width="2"/>
<circle cx="755.3" cy="1371.8" r="3" fill="#fff" stroke="#e3b04e" stroke-width="2"/>
<circle cx="791.8" cy="1391.0" r="3" fill="#fff" stroke="#e3b04e" stroke-width="2"/>
<circle cx="829.1" cy="1365.5" r="3" fill="#fff" stroke="#e3b04e" stroke-width="2"/>
<circle cx="865.1" cy="1386.0" r="3" fill="#fff" stroke="#e3b04e" stroke-width="2"/>
<circle cx="902.0" cy="1367.2" r="3" fill="#fff" stroke="#e3b04e" stroke-width="2"/>
<circle cx="938.5" cy="1390.2" r="3" fill="#fff" stroke="#e3b04e" stroke-width="2"/>
<circle cx="974.9" cy="1441.8" r="3" fill="#fff" stroke="#e3b04e" stroke-width="2"/>
<circle cx="1011.8" cy="1394.4" r="3" fill="#fff" stroke="#e3b04e" stroke-width="2"/>
<circle cx="1047.9" cy="1415.3" r="3" fill="#fff" stroke="#e3b04e" stroke-width="2"/>
<circle cx="1084.3" cy="1406.1" r="3" fill="#fff" stroke="#e3b04e" stroke-width="2"/>
<circle cx="1121.6" cy="1417.0" r="3" fill="#fff" stroke="#e3b04e" stroke-width="2"/>
<polyline points="280.9,1252.7 316.5,1275.8 353.4,1256.5 389.9,1277.5 426.8,1251.5 463.2,1270.8 499.7,1300.5 536.6,1268.7 572.6,1261.1 608.7,1251.9 645.1,1282.1 682.0,1242.3 718.0,1280.0 754.9,1255.2 791.4,1268.7 828.2,1289.6 864.7,1275.4 901.2,1245.2 937.6,1264.0 974.5,1286.7 1011.0,1310.2 1047.4,1263.2 1084.3,1272.4 1121.2,1248.1" fill="none" stroke="#5b8fd6" stroke-width="2.600" stroke-linejoin="round"/>
<circle cx="280.9" cy="1252.7" r="3" fill="#fff" stroke="#5b8fd6" stroke-width="2"/>
<circle cx="316.5" cy="1275.8" r="3" fill="#fff" stroke="#5b8fd6" stroke-width="2"/>
<circle cx="353.4" cy="1256.5" r="3" fill="#fff" stroke="#5b8fd6" stroke-width="2"/>
<circle cx="389.9" cy="1277.5" r="3" fill="#fff" stroke="#5b8fd6" stroke-width="2"/>
<circle cx="426.8" cy="1251.5" r="3" fill="#fff" stroke="#5b8fd6" stroke-width="2"/>
<circle cx="463.2" cy="1270.8" r="3" fill="#fff" stroke="#5b8fd6" stroke-width="2"/>
<circle cx="499.7" cy="1300.5" r="3" fill="#fff" stroke="#5b8fd6" stroke-width="2"/>
<circle cx="536.6" cy="1268.7" r="3" fill="#fff" stroke="#5b8fd6" stroke-width="2"/>
<circle cx="572.6" cy="1261.1" r="3" fill="#fff" stroke="#5b8fd6" stroke-width="2"/>
<circle cx="608.7" cy="1251.9" r="3" fill="#fff" stroke="#5b8fd6" stroke-width="2"/>
<circle cx="645.1" cy="1282.1" r="3" fill="#fff" stroke="#5b8fd6" stroke-width="2"/>
<circle cx="682.0" cy="1242.3" r="3" fill="#fff" stroke="#5b8fd6" stroke-width="2"/>
<circle cx="718.0" cy="1280.0" r="3" fill="#fff" stroke="#5b8fd6" stroke-width="2"/>
<circle cx="754.9" cy="1255.2" r="3" fill="#fff" stroke="#5b8fd6" stroke-width="2"/>
<circle cx="791.4" cy="1268.7" r="3" fill="#fff" stroke="#5b8fd6" stroke-width="2"/>
<circle cx="828.2" cy="1289.6" r="3" fill="#fff" stroke="#5b8fd6" stroke-width="2"/>
<circle cx="864.7" cy="1275.4" r="3" fill="#fff" stroke="#5b8fd6" stroke-width="2"/>
<circle cx="901.2" cy="1245.2" r="3" fill="#fff" stroke="#5b8fd6" stroke-width="2"/>
<circle cx="937.6" cy="1264.0" r="3" fill="#fff" stroke="#5b8fd6" stroke-width="2"/>
<circle cx="974.5" cy="1286.7" r="3" fill="#fff" stroke="#5b8fd6" stroke-width="2"/>
<circle cx="1011.0" cy="1310.2" r="3" fill="#fff" stroke="#5b8fd6" stroke-width="2"/>
<circle cx="1047.4" cy="1263.2" r="3" fill="#fff" stroke="#5b8fd6" stroke-width="2"/>
<circle cx="1084.3" cy="1272.4" r="3" fill="#fff" stroke="#5b8fd6" stroke-width="2"/>
<circle cx="1121.2" cy="1248.1" r="3" fill="#fff" stroke="#5b8fd6" stroke-width="2"/>
</svg>
<div class="panel" style="left:782px;top:214px;width:407px;height:327px"></div>
<div class="panel" style="left:200.300px;top:555px;width:567.700px;height:507px"></div>
<div class="panel" style="left:782px;top:555px;width:407px;height:334px"></div>
<div class="panel" style="left:782px;top:902.300px;width:407px;height:159.700px"></div>
<div class="panel" style="left:200px;top:1077px;width:989px;height:429px"></div>
<div class="pt" style="left:238px;top:225px;z-index:3">全局多维数据统计</div>
<div class="pt" style="left:824px;top:229px;z-index:3">分警种数据统计</div>
<div class="pt" style="left:237px;top:570px;z-index:3">热点资源数据统计</div>
<div class="pt" style="left:824px;top:570px;z-index:3">各警种数据统计</div>
<div class="pt" style="left:831px;top:916px;z-index:3">资源贡献排名</div>
<div class="pt" style="left:237px;top:1095px;z-index:3">数据资源分类统计</div>
<div style="z-index:3;position:absolute;left:0;top:0">
<div class="sel" style="left:667px;top:229px;width:85px">2016<svg width="11" height="7" viewBox="0 0 11 7"><path d="M.8 .8 L5.500 5.500 L10.200 .8" fill="none" stroke="#333" stroke-width="1.100"/></svg></div>
<div class="sel" style="left:1087px;top:228px;width:86px">&nbsp;7月<svg width="11" height="7" viewBox="0 0 11 7"><path d="M.8 .8 L5.500 5.500 L10.200 .8" fill="none" stroke="#333" stroke-width="1.100"/></svg></div>
<div class="sel" style="left:1087px;top:570px;width:86px">&nbsp;7月<svg width="11" height="7" viewBox="0 0 11 7"><path d="M.8 .8 L5.500 5.500 L10.200 .8" fill="none" stroke="#333" stroke-width="1.100"/></svg></div>
<div class="sel" style="left:1085px;top:1096px;width:85px">按月<svg width="11" height="7" viewBox="0 0 11 7"><path d="M.8 .8 L5.500 5.500 L10.200 .8" fill="none" stroke="#333" stroke-width="1.100"/></svg></div>
</div>
<div id="frame"></div>
</body></html>
